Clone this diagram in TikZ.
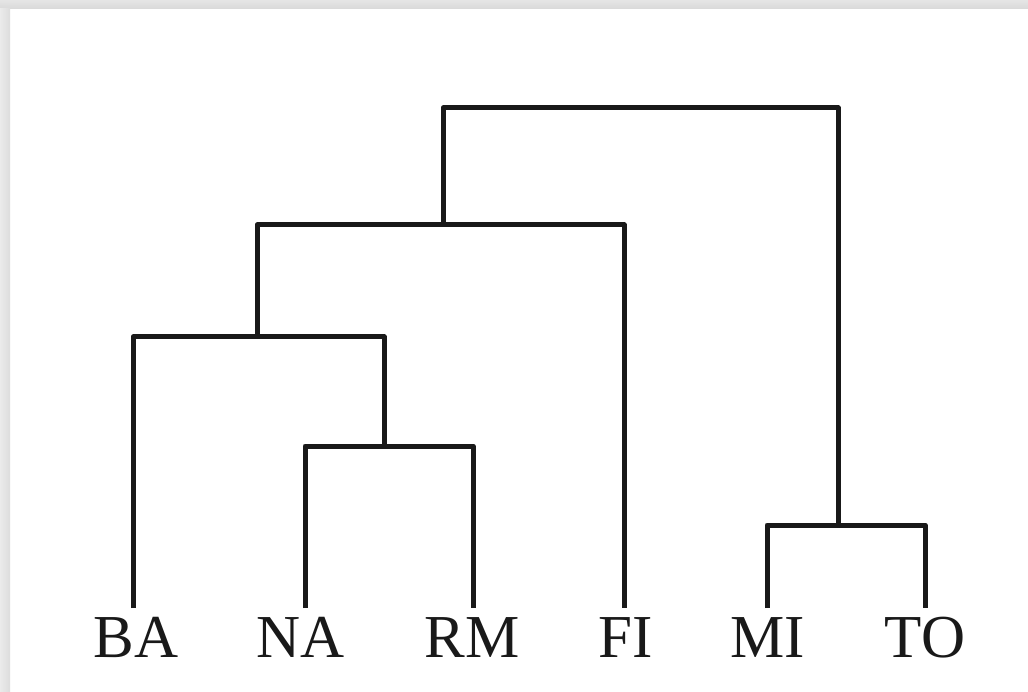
\documentclass[tikz,border=0pt]{standalone}
\usepackage{fontspec}
\setmainfont{Liberation Serif}
\begin{document}
\begin{tikzpicture}[x=1pt,y=-1pt,
  branch/.style={line width=5pt, line join=round, black!90},
  lbl/.style={font=\fontsize{61}{61}\selectfont, inner sep=0pt, anchor=base, text=black!90}]
\useasboundingbox (0,0) rectangle (1028,692);
\fill[white] (0,0) rectangle (1028,692);
% card shadow
\shade[top color=gray!20, bottom color=gray!30] (0,0) rectangle (1028,9);
\shade[left color=gray!16, right color=gray!27] (0,9) rectangle (10,692);
% labels
\node[lbl] (BA) at (136,657) {BA};
\node[lbl] (NA) at (301,657) {NA};
\node[lbl] (RM) at (472,657) {RM};
\node[lbl] (FI) at (626,657) {FI};
\node[lbl] (MI) at (768,657) {MI};
\node[lbl] (TO) at (925,657) {TO};
% leaf tops
\coordinate (lBA) at (133,608);
\coordinate (lNA) at (305,608);
\coordinate (lRM) at (473,608);
\coordinate (lFI) at (624,608);
\coordinate (lMI) at (767,608);
\coordinate (lTO) at (925,608);
% joins
\coordinate (n1) at (384,446);
\coordinate (n2) at (257,337);
\coordinate (n3) at (443,225);
\coordinate (n4) at (838,525);
\coordinate (n5) at (640,108);
% branches
\draw[branch] (lNA) |- (n1) -| (lRM);
\draw[branch] (lBA) |- (n2) -| (n1);
\draw[branch] (n2) |- (n3) -| (lFI);
\draw[branch] (lMI) |- (n4) -| (lTO);
\draw[branch] (n3) |- (n5) -| (n4);
\end{tikzpicture}
\end{document}
